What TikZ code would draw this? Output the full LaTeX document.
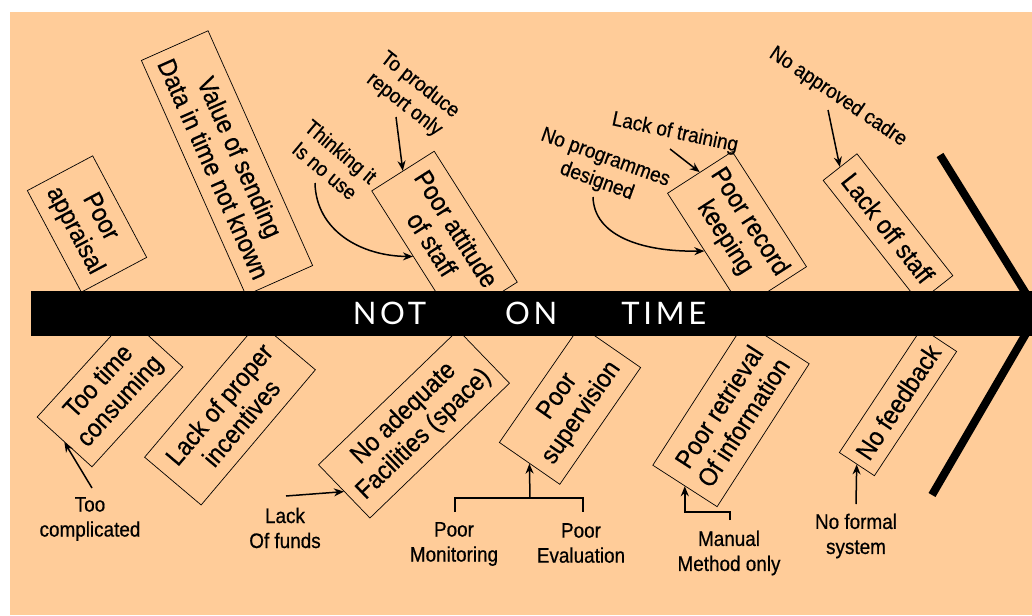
\documentclass[tikz,border=0pt]{standalone}
\usepackage{fontspec}
\setmainfont{Liberation Sans}[FakeStretch=0.9, FakeBold=0.6]
\newfontfamily\barfont{Lato}[LetterSpace=12]
\usetikzlibrary{arrows.meta}
\definecolor{peach}{HTML}{FFCC99}

\tikzset{
  cause/.style={draw, line width=0.7pt, fill=peach, inner sep=0pt, align=center,
    font=\fontsize{26}{29}\selectfont},
  note/.style={inner sep=1pt, align=center, font=\fontsize{21}{25}\selectfont},
  link/.style={line width=1.5pt, -{Stealth[length=10pt,width=8pt]}},
  tie/.style={line width=1.5pt},
  bone/.style={line width=8pt},
  spine/.style={fill=black, text=white, inner sep=0pt, minimum width=1001pt,
    minimum height=45pt, font=\barfont\fontsize{31}{32}\selectfont},
}

\begin{document}
\begin{tikzpicture}[x=1pt, y=-1pt]
  \useasboundingbox (0,0) rectangle (1032,615);
  \fill[white] (0,0) rectangle (1032,615);
  \fill[peach] (10,12) rectangle (1032,615);

  % causes above the spine
  \node[cause, minimum width=115pt, minimum height=74pt, rotate=-62] (appr) at (87,224) {Poor\\appraisal};
  \node[cause, minimum width=257pt, minimum height=73pt, rotate=-66] (send) at (227,163) {Value of sending\\Data in time not known};
  \node[cause, minimum width=155pt, minimum height=74pt, rotate=-57.6] (att) at (444.5,236.5) {Poor attitude\\of staff};
  \node[cause, minimum width=137pt, minimum height=77pt, rotate=-57.2] (rec) at (737,230) {Poor record\\keeping};
  \node[cause, minimum width=155pt, minimum height=43pt, rotate=-51.8] (stf) at (888,228) {Lack off staff};

  % causes below the spine
  \node[cause, minimum width=135pt, minimum height=74pt, rotate=47.7] (cons) at (110,392) {Too time\\consuming};
  \node[cause, minimum width=177pt, minimum height=74pt, rotate=49.8] (inc) at (230,413.5) {Lack of proper\\incentives};
  \node[cause, minimum width=194pt, minimum height=74pt, rotate=44] (fac) at (414,424) {No adequate\\Facilities (space)};
  \node[cause, minimum width=142pt, minimum height=73.5pt, rotate=55.3] (sup) at (570,405) {Poor\\supervision};
  \node[cause, minimum width=170pt, minimum height=76.5pt, rotate=57.2] (ret) at (731,414.5) {Poor retrieval\\Of information};
  \node[cause, minimum width=149pt, minimum height=42pt, rotate=56.5] (fb) at (898,402) {No feedback};

  % spine and head
  \node[spine] (main) at (531.5,313.5) {\hspace{-4pt}NOT\hspace{79pt}ON\hspace{64pt}TIME};
  \begin{scope}
    \clip (0,0) rectangle (1032,615);
    \draw[bone] (940,155) -- (1038,313) -- (932,495);
  \end{scope}

  % sub-causes
  \node[note, rotate=-38] (prod) at (412,95) {To produce\\report only};
  \node[note, rotate=-40] (think) at (333,161) {Thinking it\\Is no use};
  \node[note, rotate=-20] (prog) at (601,170) {No programmes\\designed};
  \node[note, rotate=-12] (train) at (675,133) {Lack of training};
  \node[note, rotate=-34] (cadre) at (838,97) {No approved cadre};
  \node[note] (compl) at (90,519) {Too\\complicated};
  \node[note] (funds) at (285,528) {Lack\\Of funds};
  \node[note] (mon) at (454,544) {Poor\\Monitoring};
  \node[note] (eval) at (581,543) {Poor\\Evaluation};
  \node[note] (man) at (729,553) {Manual\\Method only};
  \node[note] (formal) at (856,536) {No formal\\system};

  % arrow starts
  \coordinate (prodS) at (396,117);
  \coordinate (thinkS) at (315,183);
  \coordinate (progS) at (593,197);
  \coordinate (trainS) at (670,149);
  \coordinate (cadreS) at (828,110);
  \coordinate (complS) at (92,488);
  \coordinate (fundsS) at (286,496);
  \coordinate (monS) at (455,512);
  \coordinate (evalS) at (583,512);
  \coordinate (join) at (530,498);
  \coordinate (manS) at (730,520);
  \coordinate (formalS) at (856,504);

  % connectors
  \draw[link] (prodS) -- (att.west);
  \draw[link] (thinkS) .. controls (316,230) and (360,256) .. (att.south);
  \draw[link] (progS) .. controls (594,235) and (640,252) .. (rec.south);
  \draw[link] (trainS) -- (rec.west);
  \draw[link] (cadreS) -- (stf.west);
  \draw[link] (complS) -- (cons.west);
  \draw[link] (fundsS) -- (fac.west);
  \draw[tie] (monS) |- (join) -| (evalS);
  \draw[link] (join) -- (sup.west);
  \draw[link] (manS) -- ++(0,-8) -| (ret.west);
  \draw[link] (formalS) -- (fb.west);
\end{tikzpicture}
\end{document}
